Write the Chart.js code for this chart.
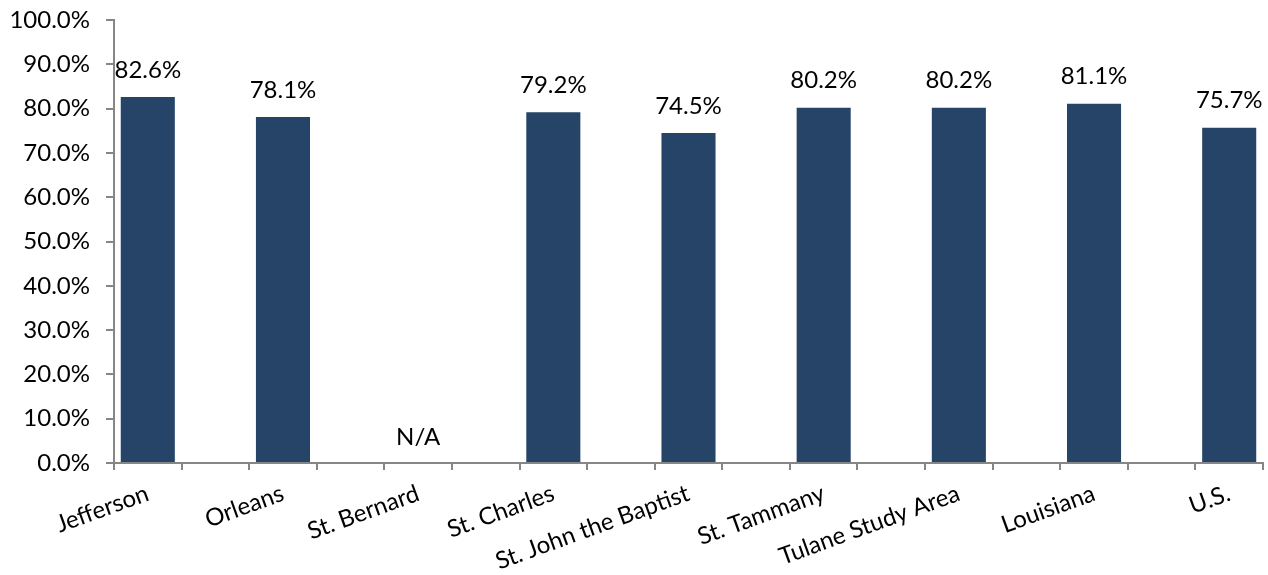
<!DOCTYPE html>
<html>
<head>
<meta charset="UTF-8">
<script src="https://cdn.jsdelivr.net/npm/chart.js@4"></script>
<style>
  html, body { margin: 0; padding: 0; background: #fff; }
  #wrap { width: 1268px; height: 575px; }
</style>
</head>
<body>
<div id="wrap"><canvas id="c"></canvas></div>
<script>
// categories and values
const areas = ['Jefferson', 'Orleans', 'St. Bernard', 'St. Charles', 'St. John the Baptist',
               'St. Tammany', 'Tulane Study Area', 'Louisiana', 'U.S.'];
const rates = [82.6, 78.1, null, 79.2, 74.5, 80.2, 80.2, 81.1, 75.7];
const yTicks = [0, 10, 20, 30, 40, 50, 60, 70, 80, 90, 100];

// the original has an empty slot between every pair of bars
const labels = [];
const values = [];
areas.forEach((a, i) => {
  labels.push(a); values.push(rates[i]);
  if (i < areas.length - 1) { labels.push(''); values.push(undefined); }
});

const FONT = 'Lato, "Open Sans", sans-serif';
const SIZE = 24;
const AXIS = '#868686';

// value labels above bars, "N/A" where there is no data
const valueLabels = {
  id: 'valueLabels',
  afterDatasetsDraw(chart) {
    const ctx = chart.ctx;
    const meta = chart.getDatasetMeta(0);
    const y = chart.scales.y;
    ctx.save();
    ctx.font = SIZE + 'px ' + FONT;
    ctx.fillStyle = '#000';
    ctx.textAlign = 'center';
    ctx.textBaseline = 'middle';
    meta.data.forEach((bar, i) => {
      if (labels[i] === '') return;
      const v = values[i];
      if (v === null) {
        ctx.fillText('N/A', bar.x, y.getPixelForValue(0) - 26);
      } else {
        ctx.fillText(v.toFixed(1) + '%', bar.x, bar.y - 27);
      }
    });
    ctx.restore();
  }
};

new Chart(document.getElementById('c'), {
  type: 'bar',
  data: {
    labels: labels,
    datasets: [{
      data: values,
      backgroundColor: '#264467',
      barPercentage: 0.8,
      categoryPercentage: 1.0
    }]
  },
  options: {
    responsive: true,
    maintainAspectRatio: false,
    animation: false,
    layout: { padding: { top: 20, right: 5, left: 0, bottom: 0 } },
    plugins: { legend: { display: false }, tooltip: { enabled: false } },
    scales: {
      x: {
        grid: { display: true, drawOnChartArea: false, drawTicks: true, tickLength: 7, color: AXIS, lineWidth: 2, offset: true },
        border: { display: true, color: AXIS, width: 2 },
        ticks: {
          autoSkip: false, minRotation: 20, maxRotation: 20,
          color: '#000', font: { family: FONT, size: SIZE }, padding: 9
        },
        afterFit(s) { s.height = 112; s.paddingLeft = 0; s.paddingRight = 0; }
      },
      y: {
        min: 0, max: 100,
        afterBuildTicks(s) { s.ticks = yTicks.map(v => ({ value: v })); },
        grid: { display: true, drawOnChartArea: false, drawTicks: true, tickLength: 8, color: AXIS, lineWidth: 2 },
        border: { display: true, color: AXIS, width: 2 },
        ticks: {
          color: '#000', font: { family: FONT, size: SIZE }, padding: 16,
          callback: v => v.toFixed(1) + '%'
        },
        afterFit(s) { s.width = 114; s.paddingTop = 0; s.paddingBottom = 0; }
      }
    }
  },
  plugins: [valueLabels]
});
</script>
</body>
</html>
